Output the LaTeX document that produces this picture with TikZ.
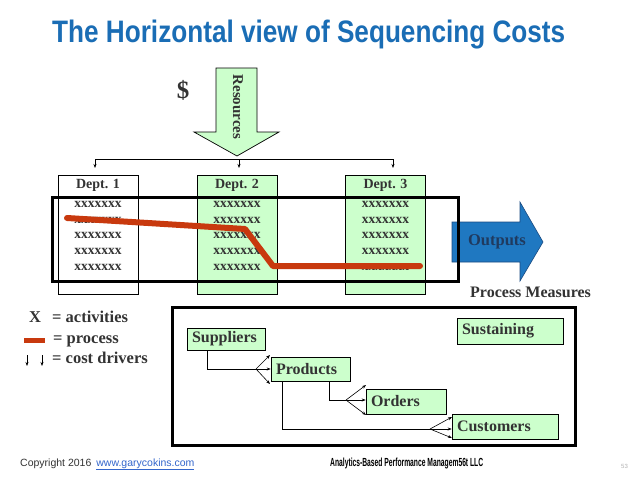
\documentclass[tikz,border=0pt]{standalone}
\usepackage{fontspec}
\setmainfont{Liberation Serif}
\setsansfont{Liberation Sans}
\usetikzlibrary{arrows.meta}
\definecolor{titleblue}{HTML}{1A6DB5}
\definecolor{lgreen}{HTML}{CCFFCC}
\definecolor{procred}{HTML}{C8390E}
\definecolor{outblue}{HTML}{1F78C1}
\definecolor{outedge}{HTML}{1A4A80}
\definecolor{outtext}{HTML}{1F3A5F}
\definecolor{txtgray}{HTML}{333333}
\definecolor{linkblue}{HTML}{3366CC}
\begin{document}
\begin{tikzpicture}[x=1pt,y=-1pt,
  deptbox/.style={draw=black, line width=0.7pt, minimum width=80pt, minimum height=119pt, inner sep=0pt},
  deptlabel/.style={font=\fontsize{14}{14}\selectfont\bfseries, text=txtgray, inner sep=0pt},
  rowtxt/.style={font=\fontsize{13.5}{13.5}\selectfont\bfseries, text=txtgray, inner sep=0pt},
  frame/.style={draw=black, line width=3pt},
  process/.style={draw=procred, line width=6pt, line cap=round, line join=round},
  thinarr/.style={-{Stealth[length=4pt,width=3pt]}, line width=0.6pt},
  cbox/.style={draw=black, line width=0.6pt, fill=lgreen, inner xsep=5pt, inner ysep=0pt,
    font=\fontsize{16}{16}\selectfont\bfseries, text=txtgray, align=left},
  legend/.style={font=\fontsize{16.5}{16.5}\selectfont\bfseries, text=txtgray, inner sep=0pt, anchor=base west},
  fan/.style={-{Stealth[length=4pt,width=3pt]}, line width=0.6pt},
  conn/.style={line width=0.6pt}
]
\useasboundingbox (0,0) rectangle (638,479);
\fill[white] (0,0) rectangle (638,479);

% Title
\node[anchor=base west, text=titleblue, inner sep=0pt] (title) at (52,42)
  {\resizebox{513pt}{22.5pt}{\sffamily\bfseries The Horizontal view of Sequencing Costs}};

% Dollar
\node[font=\fontsize{25}{25}\selectfont\bfseries, text=txtgray, inner sep=0pt] (dollar) at (183,90) {\$};

% Resources arrow
\draw[fill=lgreen, line width=0.7pt] (216,68) -- (257,68) -- (257,132) -- (279,132) -- (237,156)
  -- (194,132) -- (216,132) -- cycle;
\node[rotate=-90, font=\fontsize{15}{15}\selectfont\bfseries, text=txtgray, inner sep=0pt] (res) at (238,107) {Resources};

% Bracket and cost driver arrows
\coordinate (bl) at (95,159);
\coordinate (bm) at (239,159);
\coordinate (br) at (393,159);
\coordinate (al) at (95,168);
\coordinate (am) at (239,168);
\coordinate (ar) at (393,168);
\draw[line width=0.7pt] (bl) -- (br);
\draw[thinarr] (bl) -- (al);
\draw[thinarr] (bm) -- (am);
\draw[thinarr] (br) -- (ar);

% Departments
\node[deptbox, fill=white] (d1) at (98,234.5) {};
\node[deptbox, fill=lgreen] (d2) at (237,234.5) {};
\node[deptbox, fill=lgreen] (d3) at (385.5,234.5) {};
\node[deptlabel] (d1l) at (98,185) {Dept. 1};
\node[deptlabel] (d2l) at (237,185) {Dept. 2};
\node[deptlabel] (d3l) at (385.5,185) {Dept. 3};
\foreach \dx/\dn in {98/a,237/b,385.5/c}{
  \foreach \ry/\rn in {204/1,220/2,235.5/3,251/4,267/5}{
    \node[rowtxt] (x\dn\rn) at (\dx,\ry) {xxxxxxx};
  }
}

% Outputs arrow
\draw[fill=outblue, draw=outedge, line width=0.6pt] (452,222) -- (520,222) -- (520,202) -- (543,242)
  -- (520,281) -- (520,262) -- (452,262) -- cycle;
\node[font=\fontsize{16.5}{16.5}\selectfont\bfseries, text=outtext, inner sep=0pt] (outputs) at (497,242) {Outputs};

% Thick process frame
\draw[frame] (52,197) rectangle (458,281);

% Process line
\draw[process] (67,218) -- (245,229) -- (273,266) -- (420,266);

% Process Measures
\node[anchor=base west, font=\fontsize{16}{16}\selectfont\bfseries, text=txtgray, inner sep=0pt] (pm) at (470,297) {Process Measures};

% Legend
\node[legend] (legx) at (29,322) {X};
\node[legend] (lega) at (52,322) {= activities};
\draw[procred, line width=5pt] (24,340) -- (45,340);
\node[legend] (legp) at (53,343) {= process};
\coordinate (c1s) at (27,355);
\coordinate (c1e) at (27,366);
\coordinate (c2s) at (42,355);
\coordinate (c2e) at (42,366);
\draw[thinarr] (c1s) -- (c1e);
\draw[thinarr] (c2s) -- (c2e);
\node[legend] (legc) at (52,363) {= cost drivers};

% Lower frame
\draw[frame] (172,307) rectangle (575,445);

\node[cbox, minimum width=78pt, minimum height=22pt, text width=68pt] (sup) at (226,339) {Suppliers};
\node[cbox, minimum width=106pt, minimum height=26pt, text width=96pt] (sus) at (510,331) {Sustaining};
\node[cbox, minimum width=79pt, minimum height=24pt, text width=69pt] (prod) at (310.5,369) {Products};
\node[cbox, minimum width=80pt, minimum height=25pt, text width=70pt] (ord) at (406,401.5) {Orders};
\node[cbox, minimum width=106pt, minimum height=25pt, text width=96pt] (cust) at (505,426.5) {Customers};

% Fan 1: Suppliers -> Products
\coordinate (f1) at (256,369);
\coordinate (t11) at (270,355);
\coordinate (t13) at (270,384);
\draw[conn] ([xshift=-19pt]sup.south) |- (f1);
\draw[fan] (f1) -- (t11);
\draw[fan] (f1) -- (prod.west);
\draw[fan] (f1) -- (t13);

% Fan 2: Products -> Orders
\coordinate (f2) at (346,400);
\coordinate (t21) at (366,385);
\coordinate (t23) at (366,415);
\draw[conn] ([xshift=18.5pt]prod.south) |- (f2);
\draw[fan] (f2) -- (t21);
\draw[fan] (f2) -- (ord.west |- f2);
\draw[fan] (f2) -- (t23);

% Fan 3: Products -> Customers
\coordinate (f3) at (430,429);
\coordinate (t31) at (452,417);
\coordinate (t33) at (452,438);
\draw[conn] ([xshift=-28.5pt]prod.south) |- (f3);
\draw[fan] (f3) -- (t31);
\draw[fan] (f3) -- (cust.west |- f3);
\draw[fan] (f3) -- (t33);

% Footer
\node[anchor=base west, inner sep=0pt, text=txtgray] (copy) at (20,466)
  {\fontsize{10.5}{12}\selectfont\sffamily Copyright 2016\hspace{5pt}\textcolor{linkblue}{\underline{www.garycokins.com}}};
\node[anchor=base west, inner sep=0pt, text=black] (abpm) at (330,466)
  {\resizebox{153pt}{8.5pt}{\sffamily\bfseries Analytics-Based Performance Managem56t LLC}};
\node[anchor=base west, inner sep=0pt, text=black!30, font=\fontsize{6}{6}\selectfont\sffamily] (pg) at (621,468) {53};
\end{tikzpicture}
\end{document}
